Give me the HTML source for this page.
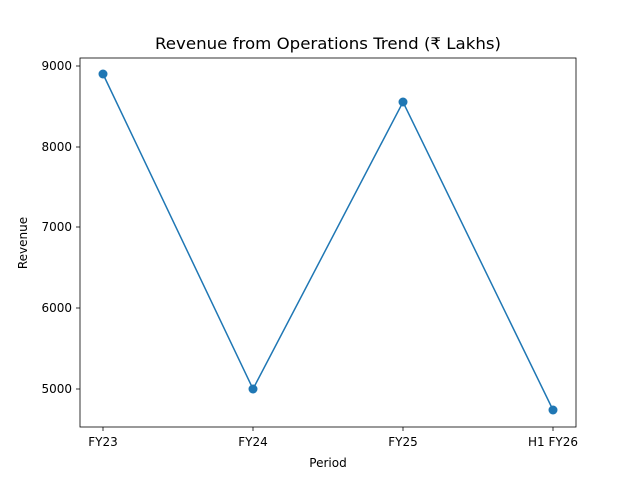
<!DOCTYPE html>
<html><head><meta charset="utf-8"><style>
html,body{margin:0;padding:0;background:#fff;}
svg text{font-family:"DejaVu Sans","Liberation Sans",sans-serif;fill:#000;}
</style></head><body>
<svg width="640" height="480" xmlns="http://www.w3.org/2000/svg">
<rect width="640" height="480" fill="#fff"/>
<text x="328" y="49" font-size="16" text-anchor="middle" textLength="346" lengthAdjust="spacingAndGlyphs">Revenue from Operations Trend (₹ Lakhs)</text>
<rect x="80" y="58" width="496" height="369" fill="none" stroke="#000" stroke-width="0.8"/>
<g stroke="#000" stroke-width="0.8">
<line x1="80" y1="66" x2="76" y2="66"/>
<line x1="80" y1="147" x2="76" y2="147"/>
<line x1="80" y1="227" x2="76" y2="227"/>
<line x1="80" y1="308" x2="76" y2="308"/>
<line x1="80" y1="389" x2="76" y2="389"/>
<line x1="103" y1="427" x2="103" y2="431"/>
<line x1="253" y1="427" x2="253" y2="431"/>
<line x1="403" y1="427" x2="403" y2="431"/>
<line x1="553" y1="427" x2="553" y2="431"/>
</g>
<g font-size="12" text-anchor="end">
<text x="72" y="70">9000</text>
<text x="72" y="151">8000</text>
<text x="72" y="231">7000</text>
<text x="72" y="312">6000</text>
<text x="72" y="393">5000</text>
</g>
<g font-size="12" text-anchor="middle">
<text x="103" y="446">FY23</text>
<text x="253" y="446">FY24</text>
<text x="403" y="446">FY25</text>
<text x="553" y="446">H1 FY26</text>
</g>
<text x="328" y="467" font-size="12" text-anchor="middle">Period</text>
<text transform="translate(27,243) rotate(-90)" font-size="12" text-anchor="middle">Revenue</text>
<polyline points="103,74 253,389 403,102 553,410" fill="none" stroke="#1f77b4" stroke-width="1.5"/>
<g fill="#1f77b4">
<circle cx="103" cy="74" r="4.5"/>
<circle cx="253" cy="389" r="4.5"/>
<circle cx="403" cy="102" r="4.5"/>
<circle cx="553" cy="410" r="4.5"/>
</g>
</svg>
</body></html>
